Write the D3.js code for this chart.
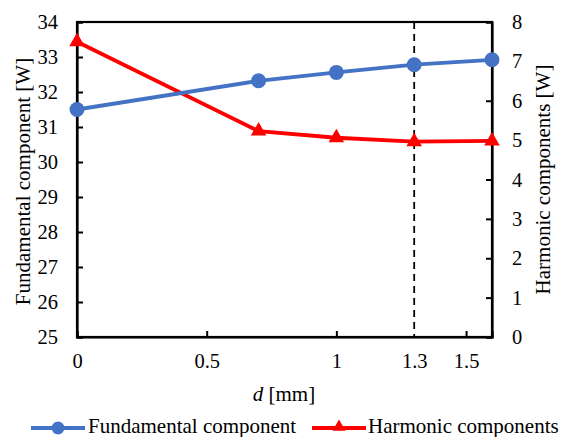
<!DOCTYPE html>
<html>
<head>
<meta charset="utf-8">
<script src="https://cdn.jsdelivr.net/npm/d3@7/dist/d3.min.js"></script>
<style>
  html, body { margin: 0; padding: 0; background: #fff; }
  svg { display: block; }
</style>
</head>
<body>
<svg id="chart" width="567" height="437"></svg>
<script>
// gap d [mm]
const distances = [0, 0.7, 1, 1.3, 1.6];
// power of the fundamental component [W] (left axis)
const fundamental = [31.5, 32.32, 32.56, 32.78, 32.92];
// power of the harmonic components [W] (right axis)
const harmonic = [7.5, 5.23, 5.06, 4.96, 4.98];
const xTicks = [0, 0.5, 1, 1.3, 1.5];
const leftTicks = [25, 26, 27, 28, 29, 30, 31, 32, 33, 34];
const rightTicks = [0, 1, 2, 3, 4, 5, 6, 7, 8];
const markerD = 1.3;

const FONT = '"Liberation Serif"';
const TICK_FS = "20.5px";
const FS = "21px";

const svg = d3.select("#chart");
const plotLeft = 77, plotRight = 492, plotTop = 22, plotBottom = 337;

const x = d3.scaleLinear().domain([0, 1.6]).range([plotLeft, plotRight]);
const yL = d3.scaleLinear().domain([25, 34]).range([plotBottom, plotTop]);
const yR = d3.scaleLinear().domain([0, 8]).range([plotBottom, plotTop]);

const blue = "#4472C4", red = "#FF0000";

// frame
svg.append("rect").attr("x", plotLeft).attr("y", plotTop)
  .attr("width", plotRight - plotLeft).attr("height", plotBottom - plotTop)
  .attr("fill", "none").attr("stroke", "#000").attr("stroke-width", 2.2);

// axes with inward ticks
const axL = svg.append("g").attr("transform", `translate(${plotLeft},0)`)
  .call(d3.axisLeft(yL).tickValues(leftTicks).tickSize(-6).tickPadding(19));
const axR = svg.append("g").attr("transform", `translate(${plotRight},0)`)
  .call(d3.axisRight(yR).tickValues(rightTicks).tickSize(-6).tickPadding(20));
const axB = svg.append("g").attr("transform", `translate(0,${plotBottom})`)
  .call(d3.axisBottom(x).tickValues(xTicks).tickSize(-6).tickPadding(16)
    .tickFormat(d => d3.format("")(d)));

[axL, axR, axB].forEach(g => {
  g.attr("font-family", null).attr("font-size", null);
  g.select(".domain").attr("stroke", "#000").attr("stroke-width", 2.2);
  g.selectAll(".tick line").attr("stroke", "#000").attr("stroke-width", 2);
  g.selectAll(".tick text").style("font-size", TICK_FS)
    .style("font-family", FONT).attr("fill", "#000");
});
// the 1.3 position is drawn as a dashed guide instead of a tick
axB.selectAll(".tick").filter(d => d === markerD).select("line").remove();

// dashed guide at d = 1.3 mm
svg.append("line")
  .attr("x1", x(markerD)).attr("x2", x(markerD))
  .attr("y1", plotTop).attr("y2", plotBottom)
  .attr("stroke", "#000").attr("stroke-width", 1.8)
  .attr("stroke-dasharray", "7,5");

// series
const lineF = d3.line().x((d, i) => x(distances[i])).y(d => yL(d));
const lineH = d3.line().x((d, i) => x(distances[i])).y(d => yR(d));

svg.append("path").datum(harmonic).attr("d", lineH)
  .attr("fill", "none").attr("stroke", red).attr("stroke-width", 3.8);
svg.append("path").datum(fundamental).attr("d", lineF)
  .attr("fill", "none").attr("stroke", blue).attr("stroke-width", 3.8);

const tri = d3.symbol().type(d3.symbolTriangle).size(105);
svg.selectAll(".hm").data(harmonic).enter().append("path")
  .attr("transform", (d, i) => `translate(${x(distances[i])},${yR(d)})`)
  .attr("d", tri).attr("fill", red);

svg.selectAll(".fm").data(fundamental).enter().append("circle")
  .attr("cx", (d, i) => x(distances[i])).attr("cy", d => yL(d))
  .attr("r", 7.5).attr("fill", blue);

function label(sel) {
  return sel.style("font-family", FONT).style("font-size", FS).attr("fill", "#000");
}

// axis titles
label(svg.append("text").attr("transform", `translate(30,${(plotTop + plotBottom) / 2 + 2}) rotate(-90)`)
  .attr("text-anchor", "middle")).text("Fundamental component [W]");
label(svg.append("text").attr("transform", `translate(550,${(plotTop + plotBottom) / 2}) rotate(-90)`)
  .attr("text-anchor", "middle")).text("Harmonic components [W]");
const xt = label(svg.append("text").attr("x", 284).attr("y", 401).attr("text-anchor", "middle"));
xt.append("tspan").style("font-style", "italic").text("d");
xt.append("tspan").text(" [mm]");

// legend
const ly = 428;
const lg = svg.append("g");
lg.append("line").attr("x1", 31).attr("x2", 85).attr("y1", ly).attr("y2", ly)
  .attr("stroke", blue).attr("stroke-width", 3.8);
lg.append("circle").attr("cx", 58).attr("cy", ly).attr("r", 6.5).attr("fill", blue);
label(lg.append("text").attr("x", 88).attr("y", 433)).text("Fundamental component");
lg.append("line").attr("x1", 312).attr("x2", 366).attr("y1", ly).attr("y2", ly)
  .attr("stroke", red).attr("stroke-width", 3.8);
lg.append("path").attr("transform", `translate(339,${ly - 1})`)
  .attr("d", d3.symbol().type(d3.symbolTriangle).size(75)).attr("fill", red);
label(lg.append("text").attr("x", 368).attr("y", 433)).text("Harmonic components");
</script>
</body>
</html>
